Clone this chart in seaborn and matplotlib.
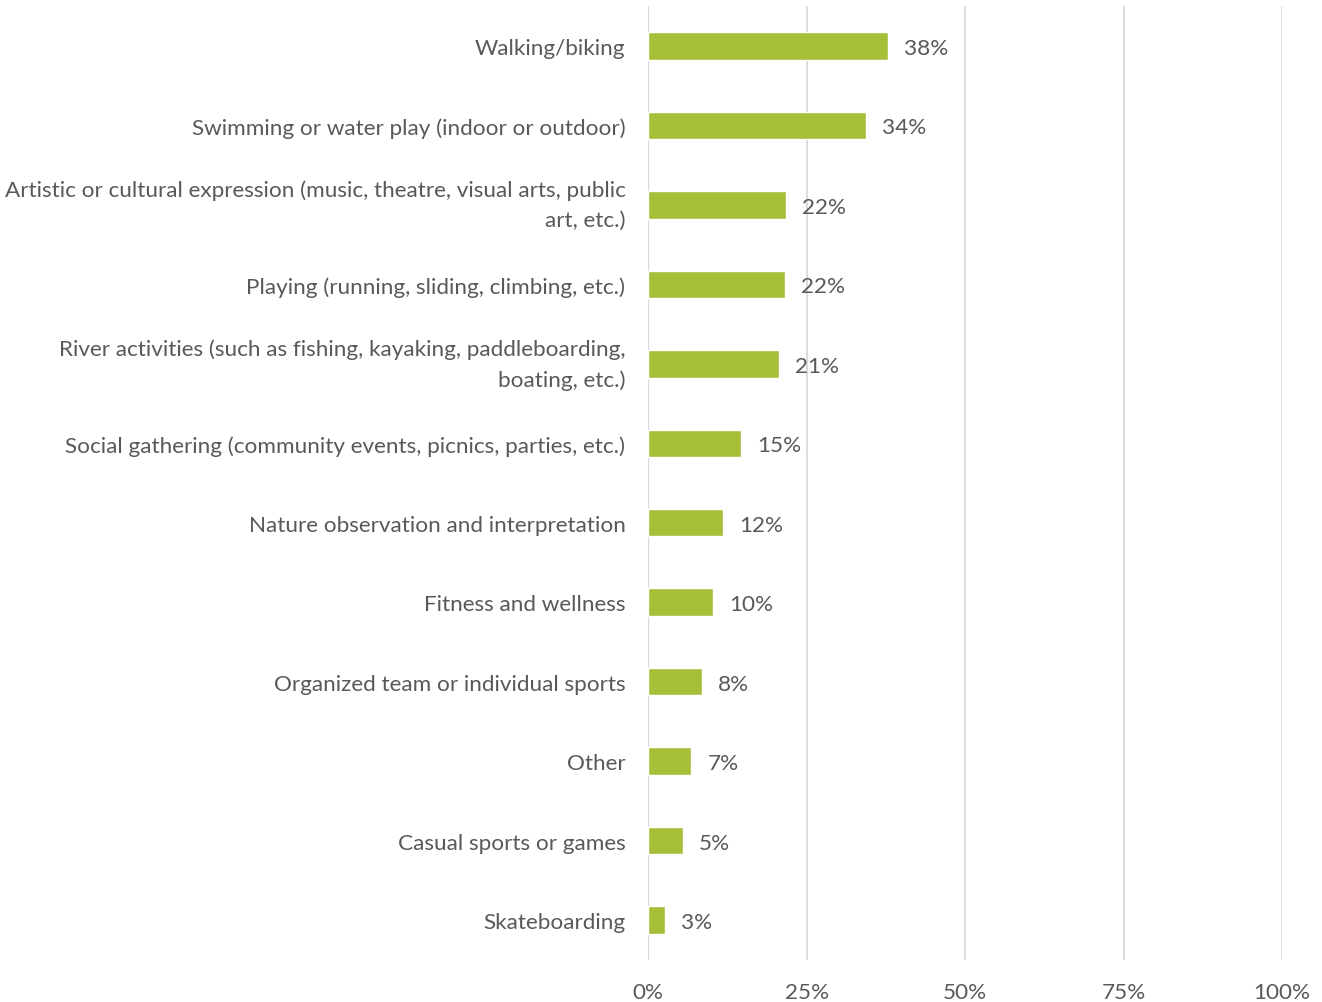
import matplotlib
matplotlib.use("Agg")
import matplotlib.pyplot as plt
import seaborn as sns
import pandas as pd
from matplotlib.ticker import FuncFormatter

activities = [
    "Walking/biking",
    "Swimming or water play (indoor or outdoor)",
    "Artistic or cultural expression (music, theatre, visual arts, public\nart, etc.)",
    "Playing (running, sliding, climbing, etc.)",
    "River activities (such as fishing, kayaking, paddleboarding,\nboating, etc.)",
    "Social gathering (community events, picnics, parties, etc.)",
    "Nature observation and interpretation",
    "Fitness and wellness",
    "Organized team or individual sports",
    "Other",
    "Casual sports or games",
    "Skateboarding",
]
share = [0.378, 0.343, 0.218, 0.216, 0.207, 0.146, 0.118, 0.102, 0.084, 0.068, 0.054, 0.026]
x_ticks = [0, 0.25, 0.5, 0.75, 1.0]

df = pd.DataFrame({"activity": activities, "share": share})

sns.set_theme(style="white")
plt.rcParams["font.family"] = ["Lato", "DejaVu Sans"]

text_color = "#595959"
grid_color = "#D9D9D9"
bar_color = "#A6BF38"
font_size = 16.2

fig = plt.figure(figsize=(13.22, 10.03), dpi=100)
ax = fig.add_axes([0.4904, 0.0422, 0.9697 - 0.4904, 0.9927 - 0.0422])

sns.barplot(data=df, x="share", y="activity", orient="h", color=bar_color,
            width=0.345, saturation=1, ax=ax)

ax.set_xlim(0, 1.0)
ax.set_ylim(len(activities) - 0.5, -0.5)
ax.set_xticks(x_ticks)
ax.xaxis.set_major_formatter(FuncFormatter(lambda v, _: f"{v * 100:.0f}%"))
ax.grid(axis="x", color=grid_color, linewidth=1.3)
ax.set_axisbelow(True)
for s in ax.spines.values():
    s.set_visible(False)
ax.axvline(0, color=grid_color, linewidth=1.6, zorder=0.5)

ax.set_xlabel("")
ax.set_ylabel("")
ax.tick_params(axis="x", length=0, pad=16, labelsize=font_size, labelcolor=text_color)
ax.tick_params(axis="y", length=0, pad=16.5, labelsize=font_size, labelcolor=text_color)
for lbl in ax.get_yticklabels():
    lbl.set_horizontalalignment("right")
    lbl.set_multialignment("right")
    if "\n" in lbl.get_text():
        lbl.set_verticalalignment("center")
        lbl.set_linespacing(1.62)

for i, v in enumerate(share):
    ax.annotate(f"{v * 100:.0f}%", xy=(v, i), xytext=(16, 0),
                textcoords="offset pixels",
                va="center_baseline", ha="left", fontsize=font_size, color=text_color)

fig.savefig("out.png", dpi=100, facecolor="white")
